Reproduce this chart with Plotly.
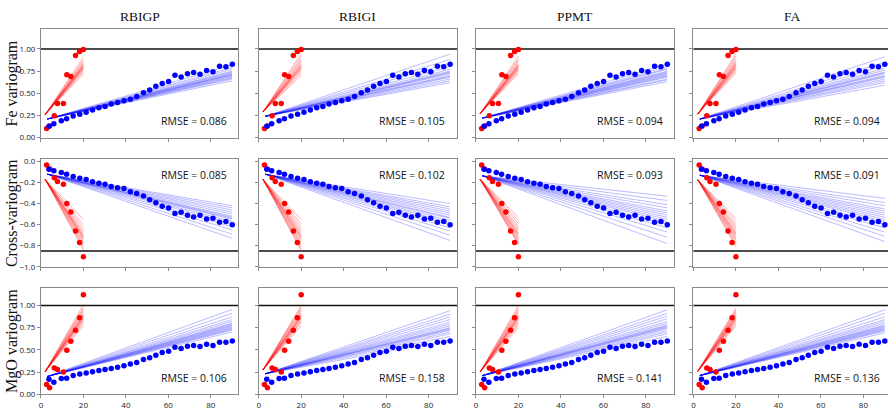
import plotly.graph_objects as go

# ---------------- data ----------------
methods = ["RBIGP", "RBIGI", "PPMT", "FA"]
row_titles = ["Fe variogram", "Cross-variogram", "MgO variogram"]
sills = [1.0, -0.85, 1.0]
rmse = [[0.086, 0.105, 0.094, 0.094],
        [0.085, 0.102, 0.093, 0.091],
        [0.106, 0.158, 0.141, 0.136]]

# experimental variogram of the data (dots), vertical (red) and horizontal (blue)
red_lags = [2.7, 4.1, 6.3, 7.8, 10.6, 12.2, 14.1, 16.3, 18.2, 20.0]
fe_red = [0.104, 0.13, 0.247, 0.386, 0.386, 0.71, 0.688, 0.926, 0.97, 0.992]
cross_red = [-0.034, -0.07, -0.155, -0.19, -0.217, -0.40, -0.48, -0.66, -0.77, -0.905]
mgo_red = [0.11, 0.074, 0.294, 0.279, 0.25, 0.496, 0.595, 0.72, 0.86, 1.12]

blue_lags = [3.8, 6.1, 9.6, 12.1, 15.2, 18.3, 21.3, 24.3, 27.3, 30.2, 33.1, 36.1, 39.1,
             42.1, 45.1, 48.3, 51.2, 54.1, 57.1, 60.1, 63.1, 66.0, 69.0, 71.9, 74.9,
             78.0, 81.0, 84.1, 87.1, 90.1]
fe_blue = [0.129, 0.158, 0.19, 0.214, 0.243, 0.265, 0.287, 0.313, 0.338, 0.35, 0.379,
           0.397, 0.416, 0.434, 0.463, 0.507, 0.537, 0.578, 0.611, 0.633, 0.702, 0.684,
           0.721, 0.735, 0.713, 0.757, 0.743, 0.805, 0.798, 0.827]
cross_blue = [-0.074, -0.087, -0.105, -0.12, -0.142, -0.158, -0.17, -0.192, -0.207,
              -0.216, -0.238, -0.25, -0.256, -0.287, -0.303, -0.327, -0.364, -0.392,
              -0.426, -0.441, -0.494, -0.482, -0.51, -0.528, -0.51, -0.547, -0.54,
              -0.578, -0.571, -0.60]
mgo_blue = [0.17, 0.136, 0.176, 0.18, 0.21, 0.228, 0.239, 0.254, 0.268, 0.279, 0.29,
            0.305, 0.32, 0.34, 0.356, 0.39, 0.41, 0.44, 0.47, 0.485, 0.53, 0.515, 0.54,
            0.548, 0.536, 0.562, 0.548, 0.585, 0.585, 0.60]

red_data = [fe_red, cross_red, mgo_red]
blue_data = [fe_blue, cross_blue, mgo_blue]

# simulated realisations (faint lines): value at first and last lag
red_line_lags = [2, 20]
blue_line_lags = [3, 90]
red_start = [[0.26, 0.29, 0.27, 0.265],
             [-0.17, -0.17, -0.17, -0.173],
             [0.255, 0.275, 0.25, 0.257]]
blue_start = [[0.21, 0.24, 0.22, 0.21],
              [-0.12, -0.12, -0.136, -0.13],
              [0.20, 0.23, 0.21, 0.21]]
red_ends = [
    [[0.72, 0.74, 0.76, 0.77, 0.78, 0.79, 0.80, 0.80, 0.81, 0.82, 0.83, 0.84, 0.86, 0.88, 0.91],
     [0.70, 0.73, 0.75, 0.77, 0.78, 0.79, 0.80, 0.81, 0.82, 0.83, 0.85, 0.87, 0.89, 0.92, 0.95],
     [0.72, 0.74, 0.76, 0.77, 0.78, 0.79, 0.80, 0.81, 0.81, 0.82, 0.83, 0.85, 0.87, 0.89, 0.92],
     [0.73, 0.75, 0.77, 0.78, 0.79, 0.80, 0.81, 0.82, 0.83, 0.84, 0.85, 0.87, 0.89, 0.92, 0.94]],
    [[-0.55, -0.60, -0.63, -0.66, -0.68, -0.70, -0.71, -0.72, -0.73, -0.74, -0.76, -0.78, -0.80, -0.82, -0.84],
     [-0.55, -0.59, -0.62, -0.65, -0.67, -0.69, -0.71, -0.72, -0.73, -0.75, -0.77, -0.79, -0.81, -0.83, -0.85],
     [-0.53, -0.56, -0.59, -0.62, -0.64, -0.66, -0.68, -0.69, -0.70, -0.72, -0.73, -0.75, -0.76, -0.78, -0.79],
     [-0.54, -0.57, -0.60, -0.62, -0.64, -0.66, -0.68, -0.69, -0.70, -0.72, -0.73, -0.75, -0.77, -0.79, -0.81]],
    [[0.77, 0.80, 0.82, 0.84, 0.85, 0.86, 0.87, 0.88, 0.89, 0.90, 0.92, 0.94, 0.96, 0.98, 1.01],
     [0.77, 0.80, 0.82, 0.83, 0.85, 0.86, 0.87, 0.88, 0.89, 0.90, 0.92, 0.94, 0.96, 0.98, 1.00],
     [0.75, 0.78, 0.80, 0.82, 0.84, 0.85, 0.86, 0.87, 0.88, 0.89, 0.91, 0.93, 0.95, 0.97, 1.00],
     [0.77, 0.79, 0.81, 0.83, 0.84, 0.85, 0.86, 0.87, 0.88, 0.89, 0.90, 0.92, 0.93, 0.95, 0.97]],
]
blue_ends = [
    [[0.64, 0.66, 0.67, 0.68, 0.69, 0.70, 0.71, 0.71, 0.72, 0.73, 0.74, 0.75, 0.77, 0.79, 0.82],
     [0.62, 0.64, 0.66, 0.68, 0.69, 0.70, 0.72, 0.73, 0.74, 0.75, 0.77, 0.80, 0.84, 0.88, 0.94],
     [0.63, 0.65, 0.66, 0.68, 0.69, 0.70, 0.71, 0.72, 0.73, 0.74, 0.75, 0.77, 0.78, 0.80, 0.83],
     [0.59, 0.62, 0.64, 0.66, 0.68, 0.69, 0.70, 0.72, 0.73, 0.74, 0.76, 0.78, 0.81, 0.85, 0.91]],
    [[-0.42, -0.44, -0.46, -0.48, -0.50, -0.52, -0.53, -0.54, -0.55, -0.57, -0.59, -0.62, -0.65, -0.69, -0.73],
     [-0.40, -0.43, -0.45, -0.47, -0.49, -0.51, -0.53, -0.54, -0.56, -0.58, -0.60, -0.63, -0.66, -0.70, -0.75],
     [-0.33, -0.37, -0.41, -0.44, -0.47, -0.49, -0.51, -0.53, -0.55, -0.57, -0.60, -0.63, -0.67, -0.72, -0.78],
     [-0.35, -0.39, -0.42, -0.45, -0.47, -0.49, -0.51, -0.53, -0.55, -0.57, -0.60, -0.63, -0.67, -0.71, -0.76]],
    [[0.70, 0.72, 0.73, 0.74, 0.75, 0.76, 0.77, 0.78, 0.79, 0.80, 0.82, 0.84, 0.87, 0.91, 0.955],
     [0.61, 0.65, 0.68, 0.70, 0.72, 0.73, 0.74, 0.75, 0.77, 0.79, 0.81, 0.84, 0.87, 0.90, 0.94],
     [0.65, 0.68, 0.70, 0.72, 0.74, 0.75, 0.76, 0.77, 0.78, 0.80, 0.82, 0.85, 0.88, 0.91, 0.95],
     [0.69, 0.71, 0.72, 0.73, 0.74, 0.75, 0.76, 0.77, 0.78, 0.80, 0.82, 0.84, 0.87, 0.91, 0.95]],
]

x_ticks = [0, 20, 40, 60, 80]
var_ticks = [0.0, 0.25, 0.5, 0.75, 1.0]
var_ticktext = ["0.00", "0.25", "0.50", "0.75", "1.00"]
cross_ticks = [0.0, -0.2, -0.4, -0.6, -0.8, -1.0]
cross_ticktext = ["0.0", "\u22120.2", "\u22120.4", "\u22120.6", "\u22120.8", "\u22121.0"]

# ---------------- layout geometry (pixels) ----------------
W, H = 888, 410
col_px = [(39, 237), (257.3, 456), (475, 674), (693, 888)]
row_px = [(26, 137), (159.3, 269.3), (290.7, 400)]
y_ranges = [[0, 1.22], [-1.0, 0.02], [0, 1.2]]
px_per_x = 198 / 93.0

RED = "#ff0000"
BLUE = "#0000ff"
FRAME = "#8a8a8a"
TICKFONT = dict(family="Open Sans", size=8, color="#222")

fig = go.Figure()
layout_axes = {}
annotations = []
shapes = []

for r in range(3):
    for c in range(4):
        k = r * 4 + c + 1
        xa = "x" if k == 1 else f"x{k}"
        ya = "y" if k == 1 else f"y{k}"
        xname = "xaxis" if k == 1 else f"xaxis{k}"
        yname = "yaxis" if k == 1 else f"yaxis{k}"
        x0, x1 = col_px[c]
        y0, y1 = row_px[r]
        xr = [0, (x1 - x0) / px_per_x]
        layout_axes[xname] = dict(
            domain=[x0 / W, x1 / W], range=xr, anchor=ya,
            showline=True, linecolor=FRAME, linewidth=1, mirror=True,
            ticks="outside", ticklen=3, tickcolor=FRAME, tickwidth=1,
            tickvals=x_ticks, showticklabels=(r == 2), tickfont=TICKFONT,
            showgrid=False, zeroline=False, fixedrange=True)
        if r == 1:
            tv, tt = cross_ticks, cross_ticktext
        else:
            tv, tt = var_ticks, var_ticktext
        layout_axes[yname] = dict(
            domain=[1 - y1 / H, 1 - y0 / H], range=y_ranges[r], anchor=xa,
            showline=True, linecolor=FRAME, linewidth=1, mirror=(c != 3),
            ticks="outside", ticklen=3, tickcolor=FRAME, tickwidth=1,
            tickvals=tv, ticktext=tt, showticklabels=(c == 0), tickfont=TICKFONT,
            showgrid=False, zeroline=False, fixedrange=True)

        # realisations
        for e in blue_ends[r][c]:
            fig.add_trace(go.Scatter(
                x=blue_line_lags, y=[blue_start[r][c], e], mode="lines",
                line=dict(color=BLUE, width=1), opacity=0.26,
                xaxis=xa, yaxis=ya, showlegend=False, hoverinfo="skip"))
        for e in red_ends[r][c]:
            fig.add_trace(go.Scatter(
                x=red_line_lags, y=[red_start[r][c], e], mode="lines",
                line=dict(color=RED, width=1), opacity=0.3,
                xaxis=xa, yaxis=ya, showlegend=False, hoverinfo="skip"))
        # experimental points
        fig.add_trace(go.Scatter(
            x=red_lags, y=red_data[r], mode="markers",
            marker=dict(color=RED, size=5.5, line=dict(width=0)),
            xaxis=xa, yaxis=ya, showlegend=False))
        fig.add_trace(go.Scatter(
            x=blue_lags, y=blue_data[r], mode="markers",
            marker=dict(color=BLUE, size=5.5, line=dict(width=0)),
            xaxis=xa, yaxis=ya, showlegend=False))

        # sill line
        shapes.append(dict(type="line", xref=f"{xa} domain", yref=ya,
                           x0=0, x1=1, y0=sills[r], y1=sills[r], layer="below",
                           line=dict(color="#111", width=1.5)))
        # RMSE label
        ry = 0.857 if r == 1 else 0.153
        annotations.append(dict(
            xref=f"{xa} domain", yref=f"{ya} domain", x=(227.5 - 39) / 198 if c < 3 else (227.5 - 39) / 195,
            y=ry, xanchor="right", yanchor="middle", showarrow=False,
            text=f"RMSE = {rmse[r][c]:.3f}",
            font=dict(family="Open Sans", size=10.5, color="#111")))

for c, m in enumerate(methods):
    x0, x1 = col_px[c]
    xc = (39 + 237) / 2 + (x0 - 39) if c < 3 else (693 + 891) / 2
    annotations.append(dict(
        xref="paper", yref="paper", x=xc / W, y=1 - 12.5 / H,
        xanchor="center", yanchor="middle", showarrow=False, text=m,
        font=dict(family="Liberation Serif", size=13.5, color="#111")))

for r, t in enumerate(row_titles):
    y0, y1 = row_px[r]
    annotations.append(dict(
        xref="paper", yref="paper", x=10 / W, y=1 - (y0 + y1) / 2 / H,
        xanchor="center", yanchor="middle", showarrow=False, text=t, textangle=-90,
        font=dict(family="Liberation Serif", size=16, color="#111")))

fig.update_layout(
    width=W, height=H, margin=dict(l=0, r=0, t=0, b=0),
    paper_bgcolor="white", plot_bgcolor="white",
    annotations=annotations, shapes=shapes, **layout_axes)

fig.write_html("out.html")
